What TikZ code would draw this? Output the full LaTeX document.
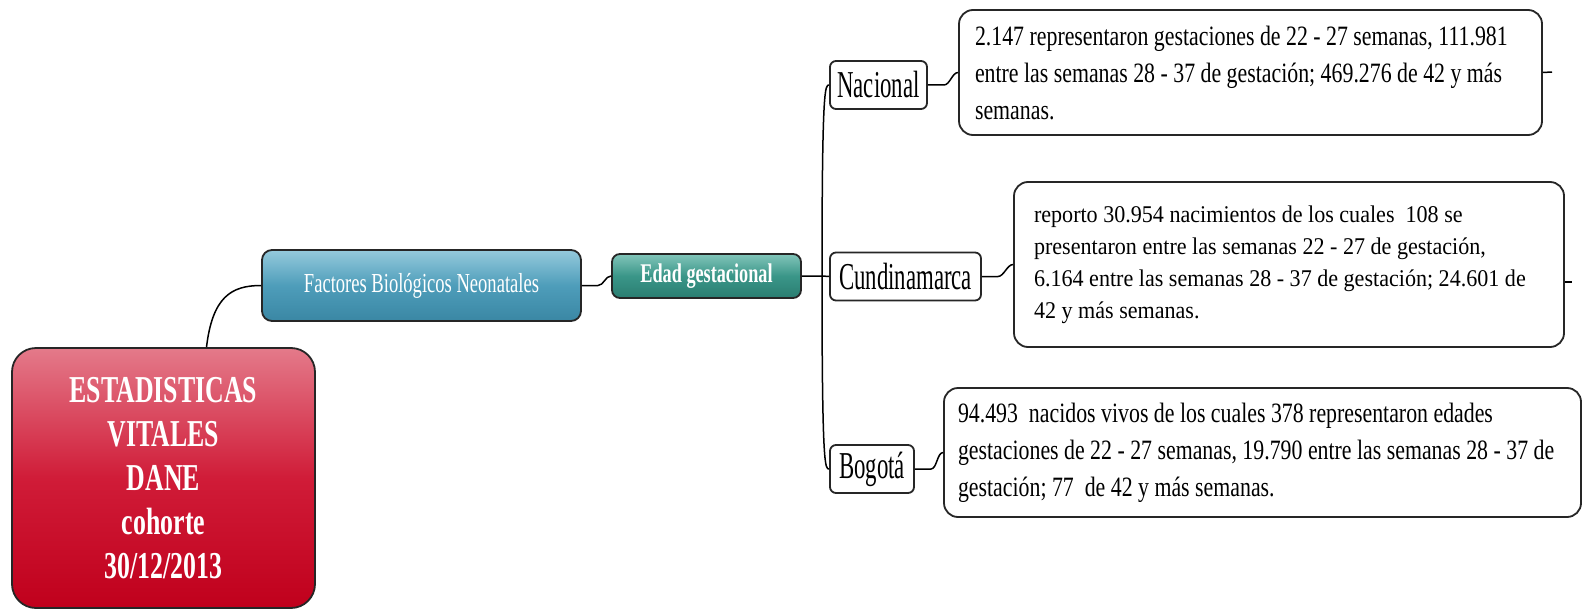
\documentclass[tikz,border=0pt]{standalone}
\usepackage{fontspec}
\setmainfont{Liberation Serif}
\newfontfamily\rootfont[FakeStretch=0.68]{Liberation Serif}
\newfontfamily\topicfont[FakeStretch=0.675]{Liberation Serif}
\newfontfamily\placefont[FakeStretch=0.6]{Liberation Serif}
\newfontfamily\notefont[FakeStretch=0.78]{Liberation Serif}
\newfontfamily\cunfont[FakeStretch=0.92]{Liberation Serif}
\definecolor{rootTop}{HTML}{E47A8A}
\definecolor{rootMid}{HTML}{D01C38}
\definecolor{rootBot}{HTML}{C0001C}
\definecolor{bioTop}{HTML}{95CADC}
\definecolor{bioMid}{HTML}{4E9DBA}
\definecolor{bioBot}{HTML}{3A87A4}
\definecolor{edadTop}{HTML}{82C5BA}
\definecolor{edadMid}{HTML}{3A9688}
\definecolor{edadBot}{HTML}{2A7D71}
\begin{document}
\begin{tikzpicture}[x=0.5pt,y=-0.5pt,line width=0.75pt]
    \tikzstyle{box}=[draw=black!85, rounded corners=3pt, inner sep=0pt, line width=0.9pt]
    \tikzstyle{root topic}=[box, rounded corners=12pt, top color=rootTop, bottom color=rootBot, middle color=rootMid, text=white, align=center, font=\rootfont\bfseries\fontsize{19}{22}\selectfont]
    \tikzstyle{main topic}=[box, rounded corners=5pt, top color=bioTop, bottom color=bioBot, middle color=bioMid, text=white, font=\topicfont\fontsize{13.75}{16}\selectfont]
    \tikzstyle{sub topic}=[box, rounded corners=4pt, top color=edadTop, bottom color=edadBot, middle color=edadMid, text=white, font=\topicfont\bfseries\fontsize{13.5}{16}\selectfont]
    \tikzstyle{place}=[box, fill=white, minimum height=24pt, font=\placefont\fontsize{19}{22}\selectfont]
    \tikzstyle{note}=[box, rounded corners=7pt, fill=white, align=left, font=\notefont\fontsize{14}{18.5}\selectfont,
        execute at begin node={\spaceskip=0pt\xspaceskip=0pt}]
    \useasboundingbox (0,0) rectangle (1583,610);
    % Draw the central topics
    \node[root topic, minimum width=151.5pt, minimum height=130pt] (root) at (163.5,478)
        {ESTADISTICAS\\VITALES\\DANE\\cohorte\\30/12/2013};
    \node[main topic, minimum width=159.5pt, minimum height=35.5pt] (bio) at (421.5,285.5)
        {Factores Biológicos Neonatales};
    \node[sub topic, minimum width=94.5pt, minimum height=22pt] (edad) at (706.5,276)
        {Edad gestacional};
    % Draw the places
    \node[place, minimum width=48.5pt] (nac) at (878.5,85) {Nacional};
    \node[place, minimum width=75.5pt] (cun) at (905.5,276.5) {Cundinamarca};
    \node[place, minimum width=42pt] (bog) at (872,469) {Bogotá};
    % Draw the notes
    \node[note, inner xsep=8pt, text width=275.5pt, minimum height=62.5pt] (nacTxt) at (1250.5,72.5)
        {2.147 representaron gestaciones de 22 - 27 semanas, 111.981\\
         entre las semanas 28 - 37 de gestación; 469.276 de 42 y más\\
         semanas.};
    \node[note, inner xsep=10pt, text width=255pt, minimum height=82.5pt, font=\cunfont\fontsize{12}{16}\selectfont] (cunTxt) at (1289,264.5)
        {reporto 30.954 nacimientos de los cuales \ 108 se\\
         presentaron entre las semanas 22 - 27 de gestación,\\
         6.164 entre las semanas 28 - 37 de gestación; 24.601 de\\
         42 y más semanas.};
    \node[note, inner xsep=7pt, text width=304.5pt, minimum height=64.5pt] (bogTxt) at (1262.5,452.5)
        {94.493 \ nacidos vivos de los cuales 378 representaron edades\\
         gestaciones de 22 - 27 semanas, 19.790 entre las semanas 28 - 37 de\\
         gestación; 77 \ de 42 y más semanas.};
    % connect the topics
    \draw ([xshift=21.5pt]root.north) .. controls +(6,-50) and +(-30,0) .. (bio.west);
    \draw (bio.east) -- ++(16,0) .. controls +(6,0) and +(-6,0) .. (edad.west);
    \coordinate (bus) at (822,276);
    \draw (edad.east) -- (bus) -- (cun.west);
    \foreach \name in {nac,bog}
        \draw (bus) .. controls (bus |- \name.west) and ([xshift=-2pt]\name.west) .. (\name.west);
    % connect every place with its note
    \foreach \source/\dest in {nac/nacTxt, cun/cunTxt, bog/bogTxt}
        \draw (\source.east) -- ++(16,0) .. controls +(6,0) and +(-6,0) .. (\dest.west);
    % little stubs on the right
    \coordinate (nacEnd) at (1552,72);
    \coordinate (cunEnd) at (1572,282);
    \draw (nacTxt.east) -- (nacEnd);
    \draw (cunTxt.east |- cunEnd) -- (cunEnd);
\end{tikzpicture}
\end{document}
